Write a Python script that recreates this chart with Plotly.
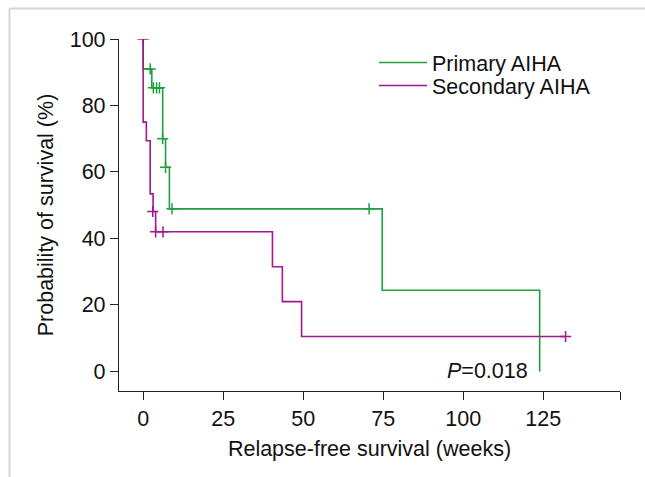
import plotly.graph_objects as go

# Kaplan-Meier step data (weeks, % surviving)
primary_t = [0, 0, 2.7, 6.1, 7.0, 8.2, 74.7, 123.9]
primary_s = [100, 91.0, 85.3, 70.0, 61.4, 48.9, 24.4, 0]
primary_cens_t = [2.2, 3.2, 4.2, 5.1, 6.1, 7.0, 9.0, 70.6]
primary_cens_s = [91.0, 85.3, 85.3, 85.3, 70.0, 61.4, 48.9, 48.9]

secondary_t = [0, 0, 1.0, 2.2, 3.1, 3.9, 40.4, 43.5, 49.5, 132]
secondary_s = [100, 75.0, 69.4, 53.4, 48.1, 42.0, 31.5, 21.0, 10.5, 10.5]
secondary_cens_t = [0, 3.0, 3.9, 6.2, 132]
secondary_cens_s = [100, 48.1, 42.0, 42.0, 10.5]

x_ticks = [0, 25, 50, 75, 100, 125, 149]
x_tick_text = ["0", "25", "50", "75", "100", "125", ""]
y_ticks = [0, 20, 40, 60, 80, 100]

GREEN = "#1f9f3d"
MAGENTA = "#a3168f"
FONT = "Liberation Sans, Arial, sans-serif"

W, H = 645, 477
L, R, T, B = 119, 25, 39, 86
pw, ph = W - L - R, H - T - B

def px_x(p):
    return (p - L) / pw

def px_y(p):
    return (H - B - p) / ph

fig = go.Figure()
fig.add_trace(go.Scatter(x=primary_t, y=primary_s, mode="lines", line_shape="hv",
                         line=dict(color=GREEN, width=1.6), name="Primary AIHA",
                         legend="legend"))
fig.add_trace(go.Scatter(x=secondary_t, y=secondary_s, mode="lines", line_shape="hv",
                         line=dict(color=MAGENTA, width=1.6), name="Secondary AIHA",
                         legend="legend2"))
fig.add_trace(go.Scatter(x=primary_cens_t, y=primary_cens_s, mode="markers", showlegend=False,
                         marker=dict(symbol="cross-thin", size=8, line=dict(color=GREEN, width=1.5))))
fig.add_trace(go.Scatter(x=secondary_cens_t, y=secondary_cens_s, mode="markers", showlegend=False,
                         marker=dict(symbol="cross-thin", size=8, line=dict(color=MAGENTA, width=1.5))))

fig.add_shape(type="line", xref="paper", yref="paper",
              x0=px_x(9.5), x1=px_x(W), y0=px_y(8.5), y1=px_y(8.5),
              line=dict(color="#d6d6d6", width=2))
fig.add_shape(type="line", xref="paper", yref="paper",
              x0=px_x(9.5), x1=px_x(9.5), y0=px_y(8.5), y1=px_y(H),
              line=dict(color="#d6d6d6", width=2))

fig.add_annotation(x=107.5, y=0, xref="x", yref="y", text="<i>P</i>=0.018",
                   showarrow=False, xanchor="center", yanchor="middle",
                   font=dict(size=21.5, color="#111", family=FONT))

leg_common = dict(xanchor="left", yanchor="top", bgcolor="rgba(0,0,0,0)",
                  font=dict(size=21.5), itemwidth=48)

fig.update_layout(
    width=W, height=H,
    margin=dict(l=L, r=R, t=T, b=B),
    plot_bgcolor="white", paper_bgcolor="white",
    font=dict(family=FONT, size=21.5, color="#111"),
    legend=dict(x=px_x(374), y=px_y(42), **leg_common),
    legend2=dict(x=px_x(374), y=px_y(65), **leg_common),
    xaxis=dict(range=[-7.55, 149], tickvals=x_ticks, ticktext=x_tick_text,
               showline=True, linecolor="#222", linewidth=1.3, ticks="outside",
               ticklen=8, tickcolor="#222", tickwidth=1.3, showgrid=False, zeroline=False,
               title=dict(text="Relapse-free survival (weeks)", font=dict(size=21.5), standoff=10),
               tickfont=dict(size=21.5)),
    yaxis=dict(range=[-5.9, 100], tickvals=y_ticks,
               showline=True, linecolor="#222", linewidth=1.3, ticks="outside",
               ticklen=8, tickcolor="#222", tickwidth=1.3, showgrid=False, zeroline=False,
               title=dict(text="Probability of survival (%)", font=dict(size=21.5), standoff=10),
               tickfont=dict(size=21.5)),
)

fig.write_html("out.html")
